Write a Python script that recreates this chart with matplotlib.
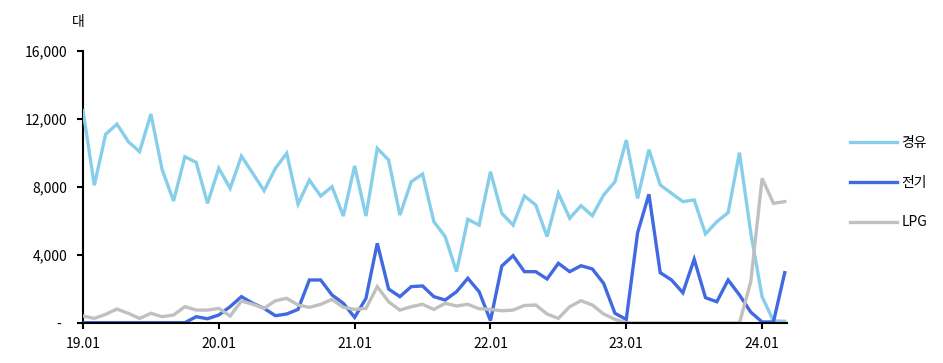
import matplotlib
matplotlib.use("Agg")
import matplotlib.pyplot as plt

plt.rcParams["font.family"] = ["Noto Sans CJK KR", "DejaVu Sans"]

# monthly, 2019.01 .. 2024.03
diesel = [12500, 8100, 11100, 11700, 10670, 10080, 12290, 9000, 7180, 9780,
          9450, 7040, 9100, 7920, 9820, 8800, 7780, 9100, 9980, 7000,
          8410, 7470, 8020, 6290, 9240, 6290, 10270, 9590, 6350, 8310,
          8760, 5960, 5080, 3020, 6100, 5760, 8900, 6450, 5760, 7470,
          6940, 5080, 7630, 6160, 6900, 6310, 7530, 8310, 10760, 7330,
          10200, 8120, 7630, 7140, 7240, 5240, 5960, 6490, 10020, 5300,
          1550, 120, 100]
electric = [20, 20, 20, 20, 20, 20, 20, 20, 20, 20,
            370, 250, 470, 960, 1550, 1160, 860, 430, 530, 800,
            2530, 2530, 1650, 1160, 330, 1450, 4690, 2000, 1550, 2140,
            2180, 1550, 1350, 1840, 2630, 1840, 140, 3350, 3960, 3020,
            3020, 2590, 3510, 3020, 3370, 3180, 2330, 570, 210, 5310,
            7570, 2960, 2530, 1780, 3750, 1490, 1250, 2530, 1650, 640,
            60, 60, 2960]
lpg = [410, 270, 510, 820, 570, 270, 570, 370, 470, 960,
       760, 760, 860, 410, 1290, 1100, 860, 1310, 1450, 1060,
       920, 1100, 1390, 920, 800, 860, 2140, 1250, 760, 960,
       1100, 800, 1160, 1000, 1100, 840, 800, 720, 760, 1030,
       1060, 530, 270, 960, 1310, 1060, 530, 220, 0, 0,
       0, 0, 0, 0, 0, 0, 0, 0, 0, 2430,
       8510, 7040, 7140]
names = ["경유", "전기", "LPG"]
colors = ["#87CEEB", "#4169E1", "#C0C0C0"]
xtick_pos = [0, 12, 24, 36, 48, 60]
xtick_labels = ["19.01", "20.01", "21.01", "22.01", "23.01", "24.01"]
ytick_pos = [0, 4000, 8000, 12000, 16000]
ytick_labels = ["-  ", "4,000", "8,000", "12,000", "16,000"]

fig = plt.figure(figsize=(9.43, 3.63), dpi=100)
ax = fig.add_axes([83 / 943, 1 - 323 / 363, (787 - 83) / 943, (323 - 51) / 363])

x = list(range(len(diesel)))
for ys, name, c in zip([diesel, electric, lpg], names, colors):
    ax.plot(x, ys, color=c, lw=2.4, label=name, solid_joinstyle="miter")

ax.set_xlim(0, 62.2)
ax.set_ylim(0, 16000)
ax.set_xticks(xtick_pos)
ax.set_xticklabels(xtick_labels)
ax.set_yticks(ytick_pos)
ax.set_yticklabels(ytick_labels)
ax.tick_params(axis="both", labelsize=10, length=4, width=1.5, color="black")
ax.tick_params(axis="x", pad=6)
ax.tick_params(axis="y", pad=7)
for s in ["top", "right"]:
    ax.spines[s].set_visible(False)
for s in ["left", "bottom"]:
    ax.spines[s].set_linewidth(1.5)
    ax.spines[s].set_color("black")
ax.spines["left"].set_zorder(0)

fig.text(78 / 943, 1 - 22 / 363, "대", fontsize=10, ha="center", va="center")

fig.legend(loc="upper left", bbox_to_anchor=(850 / 943, 1 - 136 / 363),
           frameon=False, fontsize=10, handlelength=3.4, handletextpad=0.3,
           labelspacing=1.85, borderpad=0, borderaxespad=0)

fig.savefig("out.png", dpi=100)
